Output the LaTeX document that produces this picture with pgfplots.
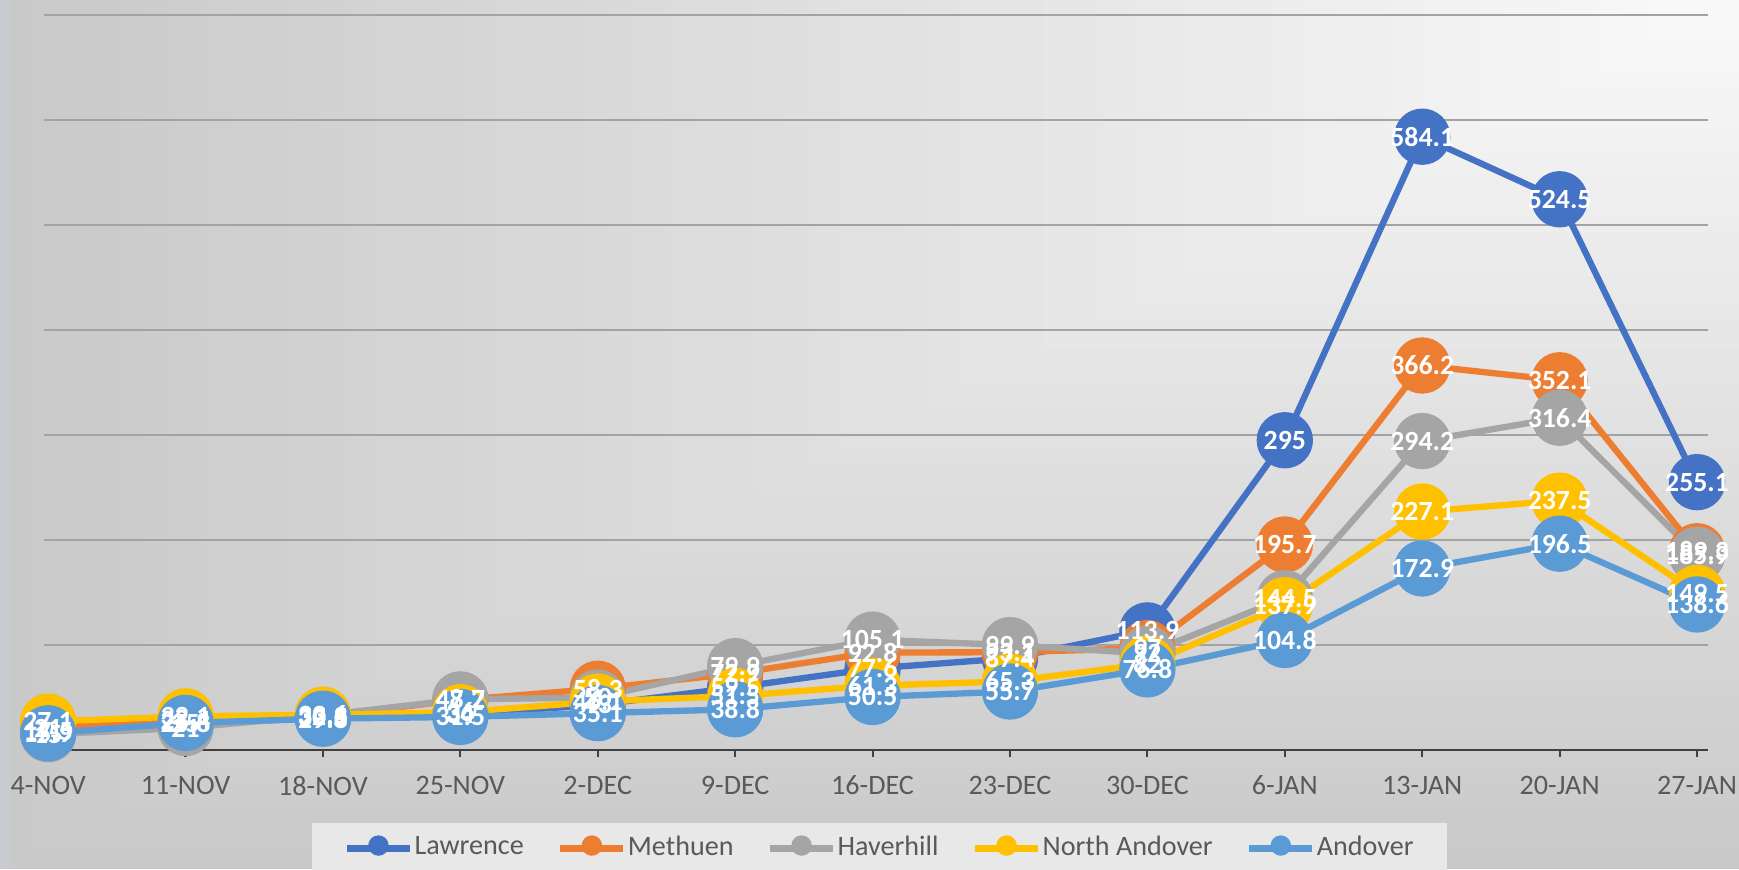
\documentclass[border=0pt]{standalone}
\usepackage{pgfplots}
\pgfplotsset{compat=1.18}
\usepackage{pgfplotstable}
\usepackage{fontspec}
\setmainfont{Carlito}
\definecolor{cLaw}{HTML}{4472C4}
\definecolor{cMet}{HTML}{ED7D31}
\definecolor{cHav}{HTML}{A5A5A5}
\definecolor{cNA}{HTML}{FFC000}
\definecolor{cAnd}{HTML}{5B9BD5}
\definecolor{txt}{HTML}{595959}
\definecolor{gridc}{HTML}{A3A3A3}
\definecolor{legbg}{HTML}{E8E8E8}
\definecolor{strip}{HTML}{C8CBD0}

\pgfplotstableread{
x y
0 17.5
1 25.0
2 30.5
3 34.0
4 43.0
5 59.5
6 77.6
7 87.4
8 113.9
9 295
10 584.1
11 524.5
12 255.1
}\lawrence
\pgfplotstableread{
x y
0 21.0
1 28.4
2 32.3
3 47.7
4 58.3
5 72.9
6 92.8
7 93.1
8 97.0
9 195.7
10 366.2
11 352.1
12 189.3
}\methuen
\pgfplotstableread{
x y
0 15.0
1 21.0
2 33.1
3 48.2
4 50.0
5 79.9
6 105.1
7 99.9
8 92.0
9 144.5
10 294.2
11 316.4
12 185.9
}\haverhill
\pgfplotstableread{
x y
0 27.1
1 32.1
2 33.6
3 36.0
4 46.1
5 51.5
6 61.3
7 65.3
8 82.0
9 137.9
10 227.1
11 237.5
12 149.5
}\northandover
\pgfplotstableread{
x y
0 15.9
1 25.8
2 29.8
3 31.5
4 35.1
5 38.8
6 50.5
7 55.7
8 76.8
9 104.8
10 172.9
11 196.5
12 138.6
}\andover

\begin{document}
\begin{tikzpicture}
\useasboundingbox (0,0) rectangle (17.39cm,8.69cm);
% background: rectangular gradient from the top right corner
\fill[black!21] (0,0) rectangle (17.39cm,8.69cm);
\foreach \i in {0,...,60}{
  \pgfmathsetmacro\s{1-\i/60}
  \pgfmathsetmacro\p{(5+49*\s)/2.55}
  \fill[black!\p] ({17.39*(1-\s)*1cm},{8.69*(1-\s)*1cm}) rectangle (17.39cm,8.69cm);
}
\fill[strip] (0,0) rectangle (0.11cm,8.69cm);
\begin{axis}[
  at={(0.44cm,1.19cm)}, anchor=south west,
  scale only axis, width=16.64cm, height=7.35cm,
  xmin=-0.03, xmax=12.08, ymin=0, ymax=700,
  clip=false,
  axis x line*=bottom, axis y line*=left,
  y axis line style={draw=none},
  ytick={0,100,...,700}, yticklabels={}, ytick style={draw=none},
  ymajorgrids, grid style={gridc, line width=0.6pt},
  xtick={0,...,12},
  xticklabels={4-NOV,11-NOV,18-NOV,25-NOV,2-DEC,9-DEC,16-DEC,23-DEC,30-DEC,6-JAN,13-JAN,20-JAN,27-JAN},
  tick align=outside, major tick length=0.7mm,
  xtick style={black!75, line width=0.6pt},
  x axis line style={black!75, line width=0.8pt},
  xticklabel style={font=\fontsize{8}{9}\selectfont, text=txt, yshift=-0.65mm},
  /pgf/number format/assume math mode=true,
  every node near coord/.append style={anchor=center, font=\bfseries\fontsize{7.9}{8}\selectfont, text=white, inner sep=0pt},
  legend columns=5,
  legend style={at={(axis description cs:0.1605,-0.098)}, anchor=north west,
    draw=none, fill=legbg, inner xsep=3.2mm, inner ysep=1.2mm,
    font=\fontsize{8}{9}\selectfont, text=txt,
    nodes={inner sep=0.4pt},
    /tikz/every even column/.append style={column sep=3.2mm}},
  legend image code/.code={
    \draw[line width=1.8pt] (0mm,0mm) -- (6.3mm,0mm);
    \fill (3.15mm,0.3mm) circle (0.7mm);
  },
]
\addplot[color=cLaw, line width=1.8pt, mark=*, mark size=2.5mm, mark options={solid}] table {\lawrence};
\addlegendentry{Lawrence}
\addplot[color=cMet, line width=1.8pt, mark=*, mark size=2.5mm, mark options={solid}] table {\methuen};
\addlegendentry{Methuen}
\addplot[color=cHav, line width=1.8pt, mark=*, mark size=2.5mm, mark options={solid}] table {\haverhill};
\addlegendentry{Haverhill}
\addplot[color=cNA, line width=1.8pt, mark=*, mark size=2.5mm, mark options={solid}] table {\northandover};
\addlegendentry{North Andover}
\addplot[color=cAnd, line width=1.8pt, mark=*, mark size=2.5mm, mark options={solid}] table {\andover};
\addlegendentry{Andover}
% data labels on top of every series
\addplot[draw=none, mark=none, forget plot, nodes near coords] table {\lawrence};
\addplot[draw=none, mark=none, forget plot, nodes near coords] table {\methuen};
\addplot[draw=none, mark=none, forget plot, nodes near coords] table {\haverhill};
\addplot[draw=none, mark=none, forget plot, nodes near coords] table {\northandover};
\addplot[draw=none, mark=none, forget plot, nodes near coords] table {\andover};
\end{axis}
\end{tikzpicture}
\end{document}
